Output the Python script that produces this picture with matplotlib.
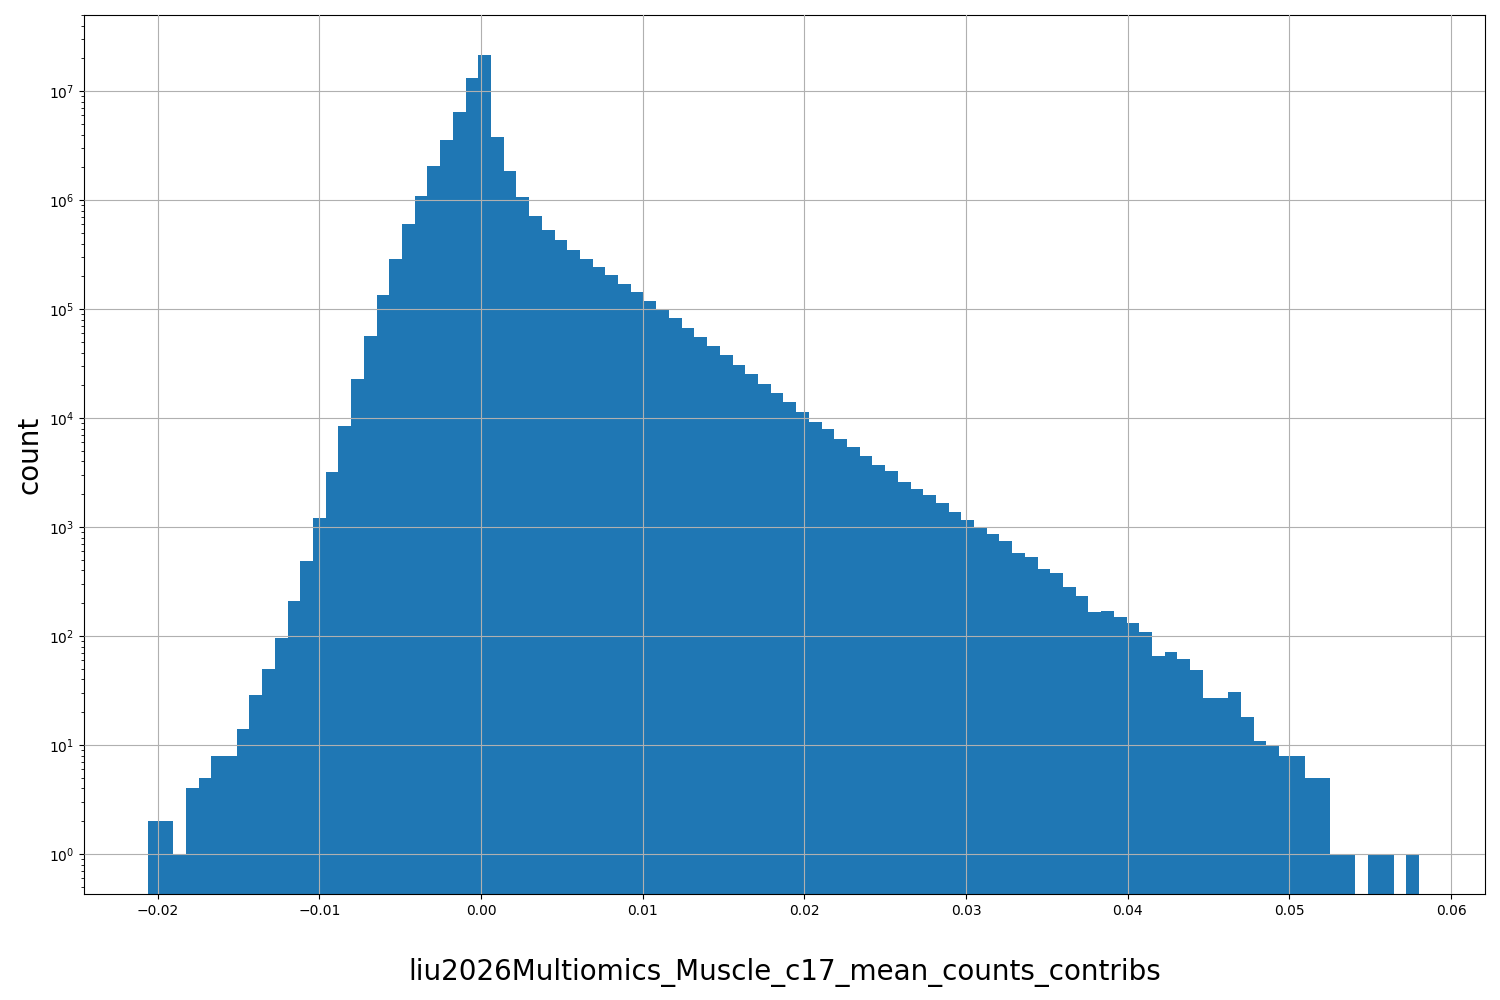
import numpy as np
import matplotlib
matplotlib.use("Agg")
import matplotlib.pyplot as plt

# histogram range and per-bin counts (100 bins)
x_min, x_max, n_bins = -0.02062, 0.05802, 100
counts = [2, 2, 1, 4, 5, 8, 8, 14, 29, 50,
          97, 210, 490, 1200, 3200, 8500, 23000, 57000, 135000, 290000,
          600000, 1.1e6, 2.05e6, 3.6e6, 6.4e6, 1.33e7, 2.15e7, 3.8e6, 1.85e6, 1.07e6,
          720000, 530000, 430000, 350000, 290000, 245000, 205000, 170000, 145000, 118000,
          100000, 83000, 67000, 56000, 46000, 38000, 31000, 25500, 20500, 17000,
          14000, 11300, 9300, 7900, 6400, 5400, 4500, 3700, 3250, 2600,
          2250, 1980, 1650, 1380, 1150, 990, 870, 740, 580, 530,
          410, 380, 280, 235, 165, 170, 150, 132, 108, 65,
          71, 61, 49, 27, 27, 31, 18, 11, 10, 8,
          8, 5, 5, 1, 1, 0, 1, 1, 0, 1]

edges = np.linspace(x_min, x_max, n_bins + 1)
centers = (edges[:-1] + edges[1:]) / 2

fig, ax = plt.subplots(figsize=(15, 10), dpi=100)
fig.subplots_adjust(left=0.056, right=0.99, top=0.985, bottom=0.106)
ax.hist(centers, bins=edges, weights=counts, color="#1f77b4", log=True)
ax.set_xlim(-0.02456, 0.0621)
ax.set_ylim(0.43, 5e7)
ax.grid(True)
ax.set_axisbelow(False)
ax.set_xlabel("liu2026Multiomics_Muscle_c17_mean_counts_contribs", fontsize=20, labelpad=29)
ax.set_ylabel("count", fontsize=20)
fig.savefig("out.png")
